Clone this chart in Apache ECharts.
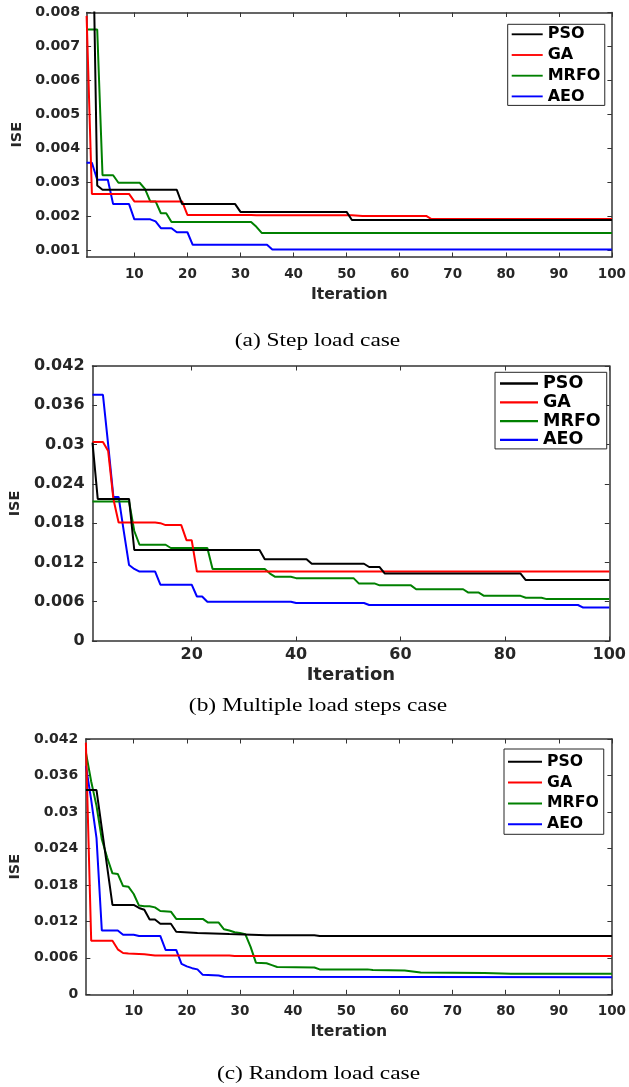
<!DOCTYPE html>
<html>
<head>
<meta charset="utf-8">
<script src="https://cdn.jsdelivr.net/npm/echarts@6/dist/echarts.min.js"></script>
<style>
html,body{margin:0;padding:0;background:#fff;}
#chart{width:629px;height:1087px;}
</style>
</head>
<body>
<div id="chart"></div>
<script>
// ---------- tick labels ----------
const iterTicksA = [10, 20, 30, 40, 50, 60, 70, 80, 90, 100];
const iseTicksA = [0.001, 0.002, 0.003, 0.004, 0.005, 0.006, 0.007, 0.008];
const iterTicksB = [20, 40, 60, 80, 100];
const iseTicksB = [0, 0.006, 0.012, 0.018, 0.024, 0.03, 0.036, 0.042];
const iterTicksC = [10, 20, 30, 40, 50, 60, 70, 80, 90, 100];
const iseTicksC = [0, 0.006, 0.012, 0.018, 0.024, 0.03, 0.036, 0.042];

const algorithms = ['PSO', 'GA', 'MRFO', 'AEO'];
const captions = ['(a) Step load case', '(b) Multiple load steps case', '(c) Random load case'];

// ---------- (a) Step load case: [iteration, ISE] at change points ----------
const stepPSO = [[1,0.020],[2,0.0122],[3,0.0029],[4,0.00277],[18,0.00277],[19,0.00235],[29,0.00235],[30,0.00212],[50,0.00212],[51,0.00188],[100,0.00188]];
const stepGA = [[1,0.0079],[2,0.00265],[9,0.00265],[10,0.00243],[19,0.00243],[20,0.00203],[32,0.00203],[33,0.00202],[51,0.00202],[53,0.002],[65,0.002],[66,0.00191],[100,0.00191]];
const stepMRFO = [[1,0.0075],[3,0.0075],[4,0.0032],[6,0.0032],[7,0.00298],[11,0.00298],[12,0.0028],[13,0.00243],[14,0.00243],[15,0.00208],[16,0.00208],[17,0.00182],[32,0.00182],[33,0.00168],[34,0.0015],[100,0.0015]];
const stepAEO = [[1,0.00357],[2,0.00357],[3,0.00307],[5,0.00307],[6,0.00235],[9,0.00235],[10,0.0019],[13,0.0019],[14,0.00184],[15,0.00164],[17,0.00164],[18,0.00152],[20,0.00152],[21,0.00115],[35,0.00115],[36,0.00101],[100,0.00101]];

// ---------- (b) Multiple load steps case ----------
const multiPSO = [[1,0.0303],[2,0.0217],[8,0.0217],[9,0.0139],[33,0.0139],[34,0.0125],[42,0.0125],[43,0.0118],[53,0.0118],[54,0.0113],[56,0.0113],[57,0.0103],[83,0.0103],[84,0.0093],[100,0.0093]];
const multiGA = [[1,0.0304],[3,0.0304],[4,0.029],[5,0.0217],[6,0.0181],[13,0.0181],[14,0.018],[15,0.0177],[18,0.0177],[19,0.0154],[20,0.0154],[21,0.0106],[100,0.0106]];
const multiMRFO = [[1,0.0213],[8,0.0213],[9,0.0168],[10,0.0147],[15,0.0147],[16,0.0142],[23,0.0142],[24,0.011],[34,0.011],[35,0.0103],[36,0.0098],[39,0.0098],[40,0.0096],[51,0.0096],[52,0.0088],[55,0.0088],[56,0.0085],[62,0.0085],[63,0.0079],[72,0.0079],[73,0.0074],[75,0.0074],[76,0.0069],[83,0.0069],[84,0.0066],[87,0.0066],[88,0.0064],[100,0.0064]];
const multiAEO = [[1,0.0376],[3,0.0376],[4,0.030],[5,0.022],[6,0.022],[7,0.0167],[8,0.0116],[9,0.011],[10,0.0106],[13,0.0106],[14,0.0086],[20,0.0086],[21,0.0068],[22,0.0068],[23,0.006],[39,0.006],[40,0.0058],[53,0.0058],[54,0.0055],[94,0.0055],[95,0.0051],[100,0.0051]];

// ---------- (c) Random load case ----------
const randPSO = [[1,0.0336],[3,0.0336],[4,0.0273],[5,0.021],[6,0.0147],[10,0.0147],[11,0.0142],[12,0.0139],[13,0.0123],[14,0.0123],[15,0.0116],[17,0.0116],[18,0.0103],[22,0.0101],[28,0.0099],[35,0.0097],[44,0.0097],[45,0.0096],[100,0.0096]];
const randGA = [[1,0.0414],[2,0.0088],[6,0.0088],[7,0.0074],[8,0.0068],[9,0.0067],[12,0.0066],[14,0.0064],[28,0.0064],[29,0.0063],[100,0.0063]];
const randMRFO = [[1,0.0398],[2,0.035],[3,0.031],[4,0.0255],[5,0.0225],[6,0.0199],[7,0.0198],[8,0.0178],[9,0.0177],[10,0.0165],[11,0.0146],[12,0.0145],[13,0.0145],[14,0.0143],[15,0.0137],[17,0.0136],[18,0.0124],[23,0.0124],[24,0.0118],[26,0.0118],[27,0.0107],[28,0.0105],[29,0.0102],[30,0.0101],[31,0.0099],[32,0.0078],[33,0.0052],[35,0.0051],[36,0.0048],[37,0.0045],[44,0.0044],[45,0.0041],[54,0.0041],[55,0.004],[61,0.0039],[64,0.0036],[76,0.0035],[81,0.0034],[100,0.0034]];
const randAEO = [[1,0.0376],[2,0.032],[3,0.0257],[4,0.0105],[7,0.0105],[8,0.0098],[10,0.0098],[11,0.0096],[15,0.0096],[16,0.0073],[18,0.0073],[19,0.005],[20,0.0046],[21,0.0043],[22,0.0041],[23,0.0032],[26,0.0031],[27,0.0029],[100,0.0028]];

const colors = {PSO: '#000000', GA: '#ff0000', MRFO: '#008000', AEO: '#0000ff'};
const FONT = 'DejaVu Sans';
const AXC = '#333333';

const panels = [
  {grid:{left:86.6, top:12.5, width:526.1, height:244.5}, ymin:0.00079, ymax:0.008,
   xt:iterTicksA, yt:iseTicksA, data:[stepPSO, stepGA, stepMRFO, stepAEO],
   xFont:13.5, yFont:14.2, nameFont:15.6, isFont:14.5, yNameGap:58, xNameGap:30, xMargin:10, yMargin:6.5,
   legend:{left:507.7, top:24.3, itemWidth:31, font:16, gap:4.7, padding:[2,4.3,1,4]},
   caption:{x:317.5, y:341}},
  {grid:{left:91, top:366, width:524, height:275}, ymin:0, ymax:0.042,
   xt:iterTicksB, yt:iseTicksB, data:[multiPSO, multiGA, multiMRFO, multiAEO],
   xFont:16, yFont:16, nameFont:18, isFont:14.5, yNameGap:67, xNameGap:25, xMargin:6, yMargin:8,
   legend:{left:495, top:372.3, itemWidth:38, font:17.5, gap:0.8, padding:[2.2,6,0,5]},
   caption:{x:318, y:706}},
  {grid:{left:85, top:739, width:527.7, height:255.3}, ymin:0, ymax:0.042,
   xt:iterTicksC, yt:iseTicksC, data:[randPSO, randGA, randMRFO, randAEO],
   xFont:13.5, yFont:14, nameFont:15.6, isFont:14.5, yNameGap:59, xNameGap:29.5, xMargin:10, yMargin:7.7,
   legend:{left:504, top:749, itemWidth:34, font:15.7, gap:4.8, padding:[4.8,5,2.1,4]},
   caption:{x:318.5, y:1074}}
];

const option = {
  backgroundColor: '#fff',
  animation: false,
  grid: [], xAxis: [], yAxis: [], series: [], legend: [], graphic: []
};

panels.forEach((p, i) => {
  option.grid.push(Object.assign({containLabel:false}, p.grid));
  const tickStyle = {show:true, inside:true, length:4.5, lineStyle:{color:AXC, width:1}};
  const lineStyle = {show:true, onZero:false, lineStyle:{color:AXC, width:1.5}};
  option.xAxis.push({
    type:'value', gridIndex:i, position:'bottom', min:1, max:100,
    axisLine:lineStyle,
    axisTick:Object.assign({customValues:p.xt}, tickStyle),
    axisLabel:{customValues:p.xt, margin:p.xMargin, color:'#262626', fontFamily:FONT, fontWeight:'bold', fontSize:p.xFont},
    splitLine:{show:false},
    name:'Iteration', nameLocation:'middle', nameGap:p.xNameGap,
    nameTextStyle:{color:'#262626', fontFamily:FONT, fontWeight:'bold', fontSize:p.nameFont}
  });
  option.xAxis.push({
    type:'value', gridIndex:i, position:'top', min:1, max:100,
    axisLine:lineStyle,
    axisTick:Object.assign({customValues:p.xt}, tickStyle),
    axisLabel:{show:false}, splitLine:{show:false}
  });
  option.yAxis.push({
    type:'value', gridIndex:i, position:'left', min:p.ymin, max:p.ymax,
    axisLine:lineStyle,
    axisTick:Object.assign({customValues:p.yt}, tickStyle),
    axisLabel:{customValues:p.yt, margin:p.yMargin, color:'#262626', fontFamily:FONT, fontWeight:'bold', fontSize:p.yFont,
      formatter:(v)=>String(+v.toFixed(4))},
    splitLine:{show:false},
    name:'ISE', nameLocation:'middle', nameGap:p.yNameGap, nameRotate:90,
    nameTextStyle:{color:'#262626', fontFamily:FONT, fontWeight:'bold', fontSize:p.isFont}
  });
  option.yAxis.push({
    type:'value', gridIndex:i, position:'right', min:p.ymin, max:p.ymax,
    axisLine:lineStyle,
    axisTick:Object.assign({customValues:p.yt}, tickStyle),
    axisLabel:{show:false}, splitLine:{show:false}
  });
  algorithms.forEach((name, k) => {
    option.series.push({
      type:'line', name:name, xAxisIndex:2*i, yAxisIndex:2*i,
      data:p.data[k], symbol:'none', showSymbol:false, clip:true,
      lineStyle:{color:colors[name], width:2}, itemStyle:{color:colors[name]},
      z:10-k
    });
  });
  option.legend.push({
    data:algorithms, orient:'vertical', left:p.legend.left, top:p.legend.top,
    itemWidth:p.legend.itemWidth, itemHeight:14, itemGap:p.legend.gap,
    padding:p.legend.padding, backgroundColor:'#fff', borderColor:'#262626', borderWidth:1,
    selectedMode:false, icon:'path://M0,0L100,0L100,6L0,6Z',
    textStyle:{color:'#000', fontFamily:FONT, fontWeight:'bold', fontSize:p.legend.font},
    z:20
  });
  option.graphic.push({
    type:'text', x:p.caption.x, y:p.caption.y, scaleX:1.23, scaleY:1,
    style:{text:captions[i], fill:'#000', font:'19px "Liberation Serif"', align:'center', verticalAlign:'middle'}
  });
});

const chart = echarts.init(document.getElementById('chart'), null, {renderer:'canvas', width:629, height:1087});
chart.setOption(option);
</script>
</body>
</html>
